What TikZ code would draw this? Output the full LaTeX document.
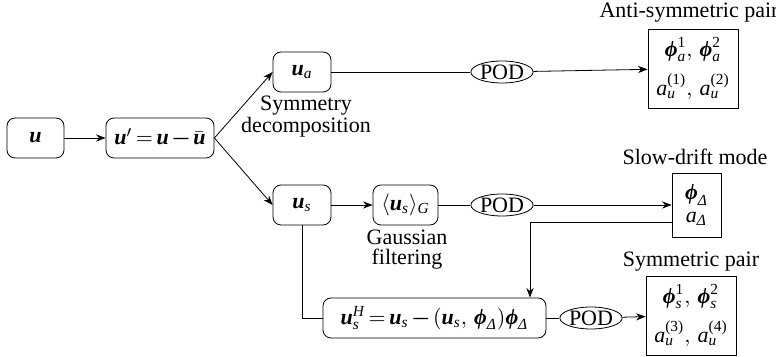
\documentclass[tikz,border=0pt]{standalone}
\usepackage{amsmath}
\usepackage[no-math]{fontspec}
\setmainfont{Liberation Serif}[
  Extension=.ttf,
  UprightFont=LiberationSerif-Regular,
  BoldFont=LiberationSerif-Bold,
  ItalicFont=LiberationSerif-Italic,
  BoldItalicFont=LiberationSerif-BoldItalic]
\usetikzlibrary{
  shapes.geometric, % Shape "ellipse"
  arrows.meta,
  positioning,
}
\newcommand{\tv}  [1]{\text{\itshape #1}}
\newcommand{\tb}  [1]{\text{\bfseries\itshape #1}}
\newcommand{\bu}  {\tb{u}}
\newcommand{\bphi}{\tb{ϕ}}
\newcommand{\dlt} {\tv{Δ}}
\newcommand{\bmin}{\boldsymbol{-}}
\tikzset{
  x=0.5pt,
  y=-0.5pt,
  line width=0.8pt,
  >=Stealth,
  my box/.style={
    draw,
    rounded corners=4pt,
    inner sep=0pt,
    minimum height=20pt,
    execute at begin node={\medmuskip=2mu\thickmuskip=3mu}
  },
  my pod/.style={
    draw,
    ellipse,
    inner sep=0pt,
    minimum width=29pt,
    minimum height=11pt
  },
  my result/.style={
    draw,
    rectangle,
    inner sep=0pt,
    align=center,
    minimum width=45pt,
    minimum height=39.5pt,
    font=\fontsize{11}{13}\selectfont
  },
  my label/.style={
    align=center,
    inner sep=0pt,
    font=\fontsize{11}{10}\selectfont
  }
}
\begin{document}
\begin{tikzpicture}[font=\fontsize{11}{13}\selectfont]
\useasboundingbox (0,0) rectangle (776,357);
% boxes
\node[my box, minimum width=28.5pt] (u)  at (35.5,138) {$\bu$};
\node[my box, minimum width=54pt]   (up) at (160,138)  {$\bu' = \bu \bmin \bar{\bu}$};
\node[my box, minimum width=29pt]   (ua) at (302,72)   {$\bu_{\tv{a}}$};
\node[my box, minimum width=29pt]   (us) at (302,205)  {$\bu_{\tv{s}}$};
\node[my box, minimum width=32.5pt] (ug) at (405.5,205) {$\langle \bu_{\tv{s}} \rangle_{\tv{G}}$};
\node[my box, minimum width=111.5pt] (uh) at (434.5,318)
  {$\bu^{\tv{H}}_{\tv{s}} = \bu_{\tv{s}} \bmin (\bu_{\tv{s}},\, \bphi_{\dlt})\bphi_{\dlt}$};
\node[my pod] (poda) at (502,72)  {POD};
\node[my pod] (pods) at (502,205) {POD};
\node[my pod] (podh) at (591,318) {POD};
% results
\node[my result] (anti) at (693,68.5)
  {$\bphi^{\text{1}}_{\tv{a}},\, \bphi^{\text{2}}_{\tv{a}}$\\[5pt]
   $\tv{a}^{\text{(1)}}_{\tv{u}},\, \tv{a}^{\text{(2)}}_{\tv{u}}$};
\node[my result, minimum width=24.5pt, minimum height=32pt,
  font=\fontsize{11}{11.5}\selectfont] (slow) at (696.5,205)
  {$\bphi_{\dlt}$\\$\tv{a}_{\dlt}$};
\node[my result] (sym) at (691,315.5)
  {$\bphi^{\text{1}}_{\tv{s}},\, \bphi^{\text{2}}_{\tv{s}}$\\[5pt]
   $\tv{a}^{\text{(3)}}_{\tv{u}},\, \tv{a}^{\text{(4)}}_{\tv{u}}$};
% labels
\node[my label] (antilbl) at (689,13)  {Anti-symmetric pair};
\node[my label] (slowlbl) at (695,157) {Slow-drift mode};
\node[my label] (symlbl)  at (691,262) {Symmetric pair};
\node[my label] (decolbl) at (306,117) {Symmetry\\decomposition};
\node[my label] (filtlbl) at (407,250) {Gaussian\\filtering};
% connectors
\draw[->] (u) -- (up);
\draw[->] (up.east) -- (ua.west);
\draw[->] (up.east) -- (us.west);
\draw (ua) -- (poda);
\draw[->] (poda) -- (anti);
\draw[->] (us) -- (ug);
\draw (ug) -- (pods);
\draw[->] (pods) -- (slow);
\coordinate (turn) at (530,222);
\draw[->] (slow.west |- turn) -- (turn) -- (turn |- uh.north);
\draw (us.south) |- (uh.west);
\draw (uh) -- (podh);
\draw[->] (podh) -- (sym);
\end{tikzpicture}
\end{document}
